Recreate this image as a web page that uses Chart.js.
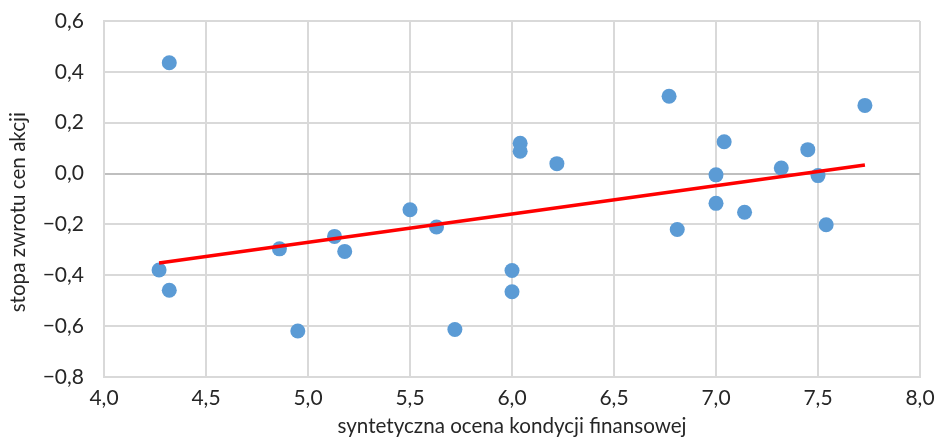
<!DOCTYPE html>
<html>
<head>
<meta charset="utf-8">
<script src="https://cdn.jsdelivr.net/npm/chart.js@4/dist/chart.umd.min.js"></script>
<style>
    body { margin: 0; background: #fff; }
</style>
</head>
<body>
<canvas id="myChart" width="937" height="437"></canvas>
<script>
// ocena kondycji (x) i stopa zwrotu (y)
const ocena = [4.32, 4.27, 4.32, 4.86, 4.95, 5.13, 5.18, 5.50, 5.63, 5.72,
    6.04, 6.04, 6.22, 6.00, 6.00, 6.77, 6.81, 7.00, 7.04, 7.00,
    7.14, 7.32, 7.45, 7.50, 7.54, 7.73];
const stopa = [0.436, -0.379, -0.459, -0.296, -0.619, -0.247, -0.306, -0.142, -0.210, -0.613,
    0.119, 0.088, 0.039, -0.381, -0.465, 0.304, -0.220, -0.005, 0.125, -0.117,
    -0.152, 0.022, 0.094, -0.008, -0.201, 0.268];

// linia trendu (koncówki)
const trendX = [4.27, 7.73];
const trendY = [-0.352, 0.034];

const xTicks = [4.0, 4.5, 5.0, 5.5, 6.0, 6.5, 7.0, 7.5, 8.0];
const yTicks = [-0.8, -0.6, -0.4, -0.2, 0.0, 0.2, 0.4, 0.6];

const fmt = (v) => {
    let s = Math.abs(v).toFixed(1).replace(".", ",");
    return v < -1e-9 ? "\u2212" + s : s;
};

const points = ocena.map((x, i) => ({ x: x, y: stopa[i] }));
const trend = trendX.map((x, i) => ({ x: x, y: trendY[i] }));

const textColor = "#262626";
const gridColor = "#d9d9d9";

const ctx = document.getElementById("myChart").getContext("2d");
new Chart(ctx, {
    type: "scatter",
    data: {
        datasets: [
            {
                type: "line",
                data: trend,
                borderColor: "#ff0000",
                borderWidth: 3.5,
                pointRadius: 0,
                fill: false,
                order: 0,
            },
            {
                data: points,
                backgroundColor: "#5b9bd5",
                borderWidth: 0,
                pointRadius: 7.5,
                order: 1,
            },
        ],
    },
    options: {
        responsive: false,
        animation: false,
        layout: { padding: { top: 21, right: 17, left: 0, bottom: 0 } },
        plugins: { legend: { display: false }, tooltip: { enabled: false } },
        scales: {
            x: {
                type: "linear",
                min: 4,
                max: 8,
                afterBuildTicks: (axis) => {
                    axis.ticks = xTicks.map((v) => ({ value: v }));
                },
                afterFit: (axis) => {
                    axis.height = 60;
                    axis.paddingLeft = 0;
                    axis.paddingRight = 0;
                },
                grid: { color: gridColor, lineWidth: 2, drawTicks: false },
                border: { color: gridColor, width: 2 },
                ticks: {
                    color: textColor,
                    font: { family: "Lato", size: 21 },
                    padding: 9,
                    maxRotation: 0,
                    callback: (v) => fmt(v),
                },
                title: {
                    display: true,
                    text: "syntetyczna ocena kondycji finansowej",
                    color: textColor,
                    font: { family: "Lato", size: 20.6 },
                    padding: { top: 0, bottom: -2 },
                },
            },
            y: {
                type: "linear",
                min: -0.8,
                max: 0.6,
                afterBuildTicks: (axis) => {
                    axis.ticks = yTicks.map((v) => ({ value: v }));
                },
                afterFit: (axis) => {
                    axis.width = 104;
                    axis.paddingTop = 0;
                    axis.paddingBottom = 0;
                },
                grid: {
                    color: (c) => (c.tick && Math.abs(c.tick.value) < 1e-9 ? "#bfbfbf" : gridColor),
                    lineWidth: 2,
                    drawTicks: false,
                },
                border: { color: gridColor, width: 2 },
                ticks: {
                    color: textColor,
                    font: { family: "Lato", size: 21 },
                    padding: 20,
                    callback: (v) => fmt(v),
                },
                title: {
                    display: true,
                    // spacje na koncu przesuwaja napis troche w dol
                    text: "stopa zwrotu cen akcji\u00a0\u00a0\u00a0\u00a0\u00a0",
                    color: textColor,
                    font: { family: "Lato", size: 20.6 },
                    padding: { top: 6, bottom: 0 },
                },
            },
        },
    },
});
</script>
</body>
</html>
